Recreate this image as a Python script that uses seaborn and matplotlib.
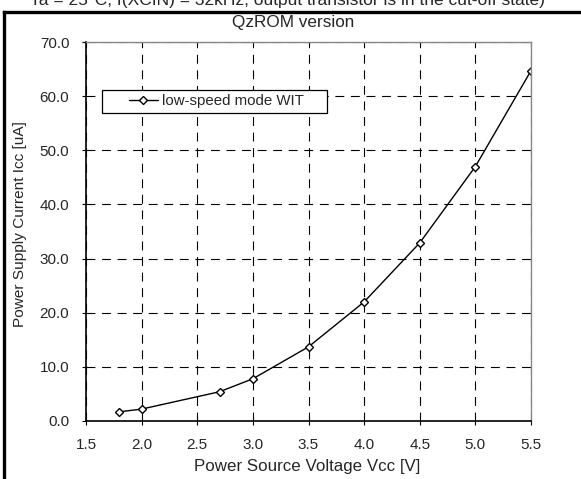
import matplotlib
matplotlib.use("Agg")
import matplotlib.pyplot as plt
import seaborn as sns
import pandas as pd
from matplotlib.lines import Line2D
from matplotlib.patches import Rectangle

voltage = [1.8, 2.0, 2.7, 3.0, 3.5, 4.0, 4.5, 5.0, 5.5]
current = [1.7, 2.2, 5.4, 7.8, 13.7, 22.0, 32.9, 47.0, 64.7]
series_name = "low-speed mode WIT"
x_ticks = [1.5, 2.0, 2.5, 3.0, 3.5, 4.0, 4.5, 5.0, 5.5]
y_ticks = [0, 10, 20, 30, 40, 50, 60, 70]

df = pd.DataFrame({"Vcc": voltage, "Icc": current, "mode": series_name})

sns.set_theme(style="white")
plt.rcParams["font.family"] = ["Liberation Sans", "DejaVu Sans"]

W, H = 581, 479
fig = plt.figure(figsize=(W / 100, H / 100), dpi=100)
ax = fig.add_axes([86 / W, 1 - 421 / H, (531 - 86) / W, (421 - 42) / H])

sns.lineplot(data=df, x="Vcc", y="Icc", ax=ax, color="black", lw=1.0,
             marker="D", markersize=4.2, markerfacecolor="white",
             markeredgecolor="black", markeredgewidth=1.0, label=series_name)

ax.set_xlim(1.5, 5.5)
ax.set_ylim(0, 70)
ax.set_xticks(x_ticks)
ax.set_yticks(y_ticks)
ax.set_xticklabels([f"{v:.1f}" for v in x_ticks], fontsize=11)
ax.set_yticklabels([f"{v:.1f}" for v in y_ticks], fontsize=11)
ax.grid(True, color="black", linestyle=(0, (8, 6)), linewidth=0.8)
ax.set_axisbelow(True)
ax.tick_params(axis="both", direction="out", length=3, width=0.8, color="black",
               bottom=True, left=True, pad=9)
for side in ["left", "bottom"]:
    ax.spines[side].set_color("black")
    ax.spines[side].set_linewidth(1.2)
for side in ["top", "right"]:
    ax.spines[side].set_color("#888888")
    ax.spines[side].set_linewidth(1.0)
ax.set_xlabel("")
ax.set_ylabel("")

# legend: frameless legend plus a manually drawn box (wide horizontal padding)
leg = ax.legend(loc="center left", frameon=False, fontsize=10.8,
                handlelength=1.9, handletextpad=0.3, borderpad=0, borderaxespad=0,
                bbox_to_anchor=((129 - 86) / (531 - 86), 1 - (101.5 - 42) / (421 - 42)))
leg.set_zorder(6)
box = Rectangle((102 / W, 1 - 113 / H), (327 - 102) / W, (113 - 90) / H,
                transform=fig.transFigure, facecolor="white", edgecolor="black",
                linewidth=0.9, zorder=5)
fig.add_artist(box)
fig.add_artist(leg)

fig.text(307 / W, 1 - 466 / H, "Power Source Voltage Vcc [V]", ha="center", va="center", fontsize=12.2)
fig.text(20 / W, 1 - 224 / H, "Power Supply Current Icc [uA]", ha="center", va="center",
         rotation=90, fontsize=11.1)
fig.text(293 / W, 1 - 22 / H, "QzROM version", ha="center", va="center", fontsize=12.3)
fig.text(287 / W, 1 - 0.5 / H, "Ta = 25°C, f(XCIN) = 32kHz, output transistor is in the cut-off state)",
         ha="center", va="center", fontsize=12.5)

# partial outer frame
fig.add_artist(Line2D([4 / W, 4 / W], [0, 1 - 12 / H], transform=fig.transFigure,
                      color="black", lw=2.4, solid_capstyle="projecting"))
fig.add_artist(Line2D([4 / W, 1], [1 - 12 / H, 1 - 12 / H], transform=fig.transFigure,
                      color="black", lw=2.4, solid_capstyle="projecting"))

fig.savefig("out.png", dpi=100)
